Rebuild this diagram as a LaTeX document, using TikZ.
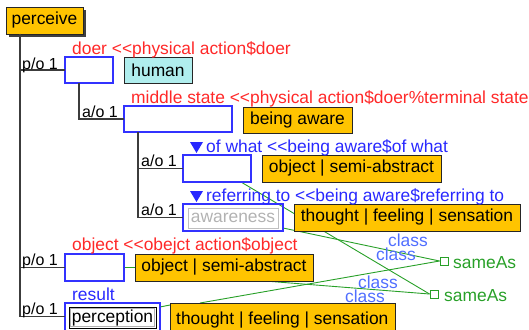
\documentclass[tikz,border=0pt]{standalone}
\usepackage{fontspec}
\setmainfont{Liberation Sans}
\usetikzlibrary{calc}
\definecolor{orangefill}{RGB}{255,196,0}
\definecolor{cyanfill}{RGB}{176,238,238}
\definecolor{redlbl}{RGB}{255,40,40}
\definecolor{bluelbl}{RGB}{40,40,255}
\definecolor{boxblue}{RGB}{50,50,255}
\definecolor{classblue}{RGB}{80,110,255}
\definecolor{linkgreen}{RGB}{40,160,40}
\definecolor{treegray}{RGB}{60,60,60}
\pgfdeclarelayer{bg}
\pgfsetlayers{bg,main}
\tikzset{
  base/.style={inner sep=0pt, outer sep=0pt, anchor=north west},
  orangebox/.style={base, draw=black!85, fill=orangefill, line width=0.9pt},
  cyanbox/.style={base, draw=black!85, fill=cyanfill, line width=0.9pt},
  bluebox/.style={base, draw=boxblue, line width=1.3pt},
  lbl/.style={inner sep=0pt, anchor=base west},
  rel/.style={lbl, font=\fontsize{16}{18}\selectfont},
  tree/.style={draw=treegray, line width=1.3pt},
  link/.style={draw=linkgreen, line width=0.9pt},
  sqr/.style={draw=linkgreen, fill=white, line width=0.9pt, minimum size=8pt, inner sep=0pt},
  classlbl/.style={text=classblue, inner sep=0pt},
  tri/.style={fill=bluelbl}
}
\begin{document}
\begin{tikzpicture}[x=1pt,y=-1pt,font=\fontsize{17.4}{19}\selectfont]
\useasboundingbox (0,0) rectangle (529,329);
\clip (0,0) rectangle (529,329);
% root
\node[base, fill=black!75, minimum width=77pt, minimum height=27pt] (rootshadow) at (9,10) {};
\node[orangebox, minimum width=77pt, minimum height=27pt] (perceive) at (6,7) {perceive};
% level boxes
\node[bluebox, minimum width=48pt, minimum height=26pt] (doer) at (65,57) {};
\node[cyanbox, minimum width=68pt, minimum height=26pt] (human) at (124,57) {human};
\node[bluebox, minimum width=108pt, minimum height=26pt] (ms) at (124,106) {};
\node[orangebox, minimum width=109pt, minimum height=26pt] (aware) at (243,107) {being aware};
\node[bluebox, minimum width=68pt, minimum height=27pt] (ofw) at (183,155) {};
\node[orangebox, minimum width=179pt, minimum height=27pt] (objsa1) at (262,155) {object | semi-abstract};
\node[bluebox, minimum width=100pt, minimum height=27pt] (aw) at (183,204) {};
\node[base, draw=black!25, text=black!30, line width=0.9pt, minimum width=90pt, minimum height=20pt] (awin) at (188,208) {awareness};
\node[orangebox, minimum width=226pt, minimum height=27pt] (tfs1) at (294,204) {thought | feeling | sensation};
\node[bluebox, minimum width=59pt, minimum height=27pt] (obj) at (65,254) {};
\node[orangebox, minimum width=178pt, minimum height=27pt] (objsa2) at (135,254) {object | semi-abstract};
\node[bluebox, minimum width=95pt, minimum height=30pt] (perc) at (65,303) {};
\node[base, draw=black, line width=0.9pt, minimum width=87pt, minimum height=21pt] (percin) at (69,307) {perception};
\node[base, draw=black!30, line width=0.5pt, minimum width=84pt, minimum height=18pt] (percin2) at (70.5,308.5) {};
\node[orangebox, minimum width=225pt, minimum height=30pt] (tfs2) at (170,303) {};
\node[inner sep=0pt, anchor=base west] (tfs2txt) at (176,324) {thought | feeling | sensation};
% sameAs
\node[sqr] (sa1) at (444,261) {};
\node[lbl, text=linkgreen] (sa1txt) at (453,268) {sameAs};
\node[sqr] (sa2) at (434,294) {};
\node[lbl, text=linkgreen] (sa2txt) at (444,301) {sameAs};
% tree lines
\coordinate (t0) at (20,34);
\coordinate (t1) at (79,83);
\coordinate (t2) at (138,132);
\draw[tree] (t0) |- (doer.west);
\draw[tree] (t0) |- (obj.west);
\draw[tree] (t0) |- ($(perc.west)+(0,-1.5)$);
\draw[tree] (t1) |- (ms.west);
\draw[tree] (t2) |- (ofw.west);
\draw[tree] (t2) |- (aw.west);
% relation labels
\node[rel] (po1) at (22,69) {p/o 1};
\node[rel] (ao1) at (82,117) {a/o 1};
\node[rel] (ao2) at (141,166) {a/o 1};
\node[rel] (ao3) at (141,215) {a/o 1};
\node[rel] (po2) at (22,265) {p/o 1};
\node[rel] (po3) at (22,314) {p/o 1};
% role labels
\node[lbl, text=redlbl] (doerlbl) at (72,54) {doer <\kern0pt<physical action\$doer};
\node[lbl, text=redlbl] (mslbl) at (131,103) {middle state <\kern0pt<physical action\$doer\%terminal state};
\fill[tri] (190,142) -- (203,142) -- (196.5,153) -- cycle;
\node[lbl, text=bluelbl] (ofwlbl) at (206,152) {of what <\kern0pt<being aware\$of what};
\fill[tri] (190,191) -- (203,191) -- (196.5,202) -- cycle;
\node[lbl, text=bluelbl] (awlbl) at (206,201) {referring to <\kern0pt<being aware\$referring to};
\node[lbl, text=redlbl] (objlbl) at (72,250) {object <\kern0pt<obejct action\$object};
\node[lbl, text=bluelbl] (reslbl) at (72,300) {result};
% class labels
\node[classlbl] (c1) at (408,240.5) {class};
\node[classlbl] (c2) at (396,254) {class};
\node[classlbl] (c3) at (378,282.5) {class};
\node[classlbl] (c4) at (365,296) {class};
% green links
\begin{pgfonlayer}{bg}
\draw[link] ($(ofw.south east)+(-10,0)$) -- (sa2.west);
\draw[link] ($(aw.south east)+(0,-3)$) -- (sa1.west);
\draw[link] ($(objsa2.south west)+(130,0)$) -- (sa2.west);
\draw[link] ($(tfs2.north west)+(30,0)$) -- (sa1.west);
\draw[link] (obj.east) -- (objsa2.west);
\draw[link] ($(perc.north east)+(0,4)$) -- ($(tfs2.north west)+(0,2)$);
\end{pgfonlayer}
\end{tikzpicture}
\end{document}
